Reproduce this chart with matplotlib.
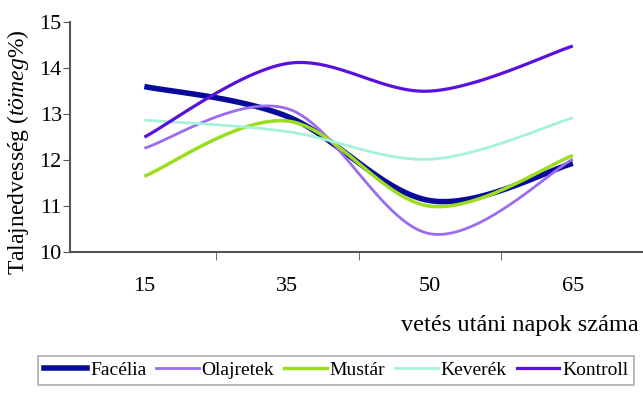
import numpy as np
import matplotlib
matplotlib.use("Agg")
import matplotlib.pyplot as plt
from matplotlib.lines import Line2D

plt.rcParams['font.family'] = ['Liberation Serif', 'DejaVu Serif']
plt.rcParams['mathtext.fontset'] = 'custom'
plt.rcParams['mathtext.rm'] = 'Liberation Serif'
plt.rcParams['mathtext.it'] = 'Liberation Serif:italic'

categories = ["15", "35", "50", "65"]
facelia = [13.60, 12.95, 11.12, 11.93]
olajretek = [12.26, 13.12, 10.40, 12.02]
mustar = [11.65, 12.85, 11.00, 12.10]
keverek = [12.87, 12.62, 12.02, 12.92]
kontroll = [12.50, 14.10, 13.50, 14.48]

series = [
    ("Facélia", facelia, "#0a0a9a", 4.0),
    ("Olajretek", olajretek, "#9a6cf0", 2.0),
    ("Mustár", mustar, "#9ade1e", 2.5),
    ("Keverék", keverek, "#a6f0de", 2.0),
    ("Kontroll", kontroll, "#5a10dc", 2.3),
]


def smooth(xs, ys, n=40):
    xs = np.asarray(xs, float)
    ys = np.asarray(ys, float)
    px, py = [], []
    m = len(xs)
    for i in range(m - 1):
        x0, y0 = xs[i], ys[i]
        x3, y3 = xs[i + 1], ys[i + 1]
        xp, yp = (xs[i - 1], ys[i - 1]) if i > 0 else (x0, y0)
        xn, yn = (xs[i + 2], ys[i + 2]) if i + 2 < m else (x3, y3)
        x1 = x0 + (x3 - xp) / 6
        y1 = y0 + (y3 - yp) / 6
        x2 = x3 - (xn - x0) / 6
        y2 = y3 - (yn - y0) / 6
        t = np.linspace(0, 1, n)
        bx = (1 - t) ** 3 * x0 + 3 * (1 - t) ** 2 * t * x1 + 3 * (1 - t) * t ** 2 * x2 + t ** 3 * x3
        by = (1 - t) ** 3 * y0 + 3 * (1 - t) ** 2 * t * y1 + 3 * (1 - t) * t ** 2 * y2 + t ** 3 * y3
        px.extend(bx)
        py.extend(by)
    return np.array(px), np.array(py)


fig = plt.figure(figsize=(6.43, 3.94), dpi=100)
ax = fig.add_axes([0.109, 0.360, 0.893, 0.584])

xs = np.arange(len(categories))
handles = []
for name, vals, color, lw in series:
    sx, sy = smooth(xs, vals)
    ax.plot(sx, sy, color=color, lw=lw, solid_capstyle='butt')
    handles.append(Line2D([0], [0], color=color, lw=lw, label=name))

ax.set_xlim(-0.52, 3.5)
ax.set_ylim(10, 15)
ax.set_yticks([10, 11, 12, 13, 14, 15])
ax.set_xticks(xs)
ax.set_xticklabels(categories)
ax.set_xticks(np.arange(-0.5, 3.5, 1.0)[1:], minor=True)
ax.tick_params(axis='x', which='major', length=0, pad=18, labelsize=16)
ax.tick_params(axis='x', which='minor', length=6, direction='out', color='#555555')
ax.tick_params(axis='y', length=5, direction='out', color='#555555', labelsize=16, pad=1)
for s in ['top', 'right']:
    ax.spines[s].set_visible(False)
for s in ['left', 'bottom']:
    ax.spines[s].set_color('#555555')
    ax.spines[s].set_linewidth(1.5)

ax.set_ylabel(r"Talajnedvesség ($\mathit{tömeg\%}$)", fontsize=17)
ax.yaxis.set_label_coords(-0.068, 0.435)
fig.text(0.993, 0.175, "vetés utáni napok száma", ha='right', va='center', fontsize=17.5)

leg = fig.legend(handles=handles, loc='center', bbox_to_anchor=(0.523, 0.060), ncol=5,
                 frameon=True, fancybox=False, fontsize=14, handlelength=2.2,
                 handletextpad=0.15, columnspacing=0.5, borderpad=0.3)
leg.get_frame().set_edgecolor('#999999')
leg.get_frame().set_linewidth(1.2)

fig.savefig("out.png", dpi=100)
